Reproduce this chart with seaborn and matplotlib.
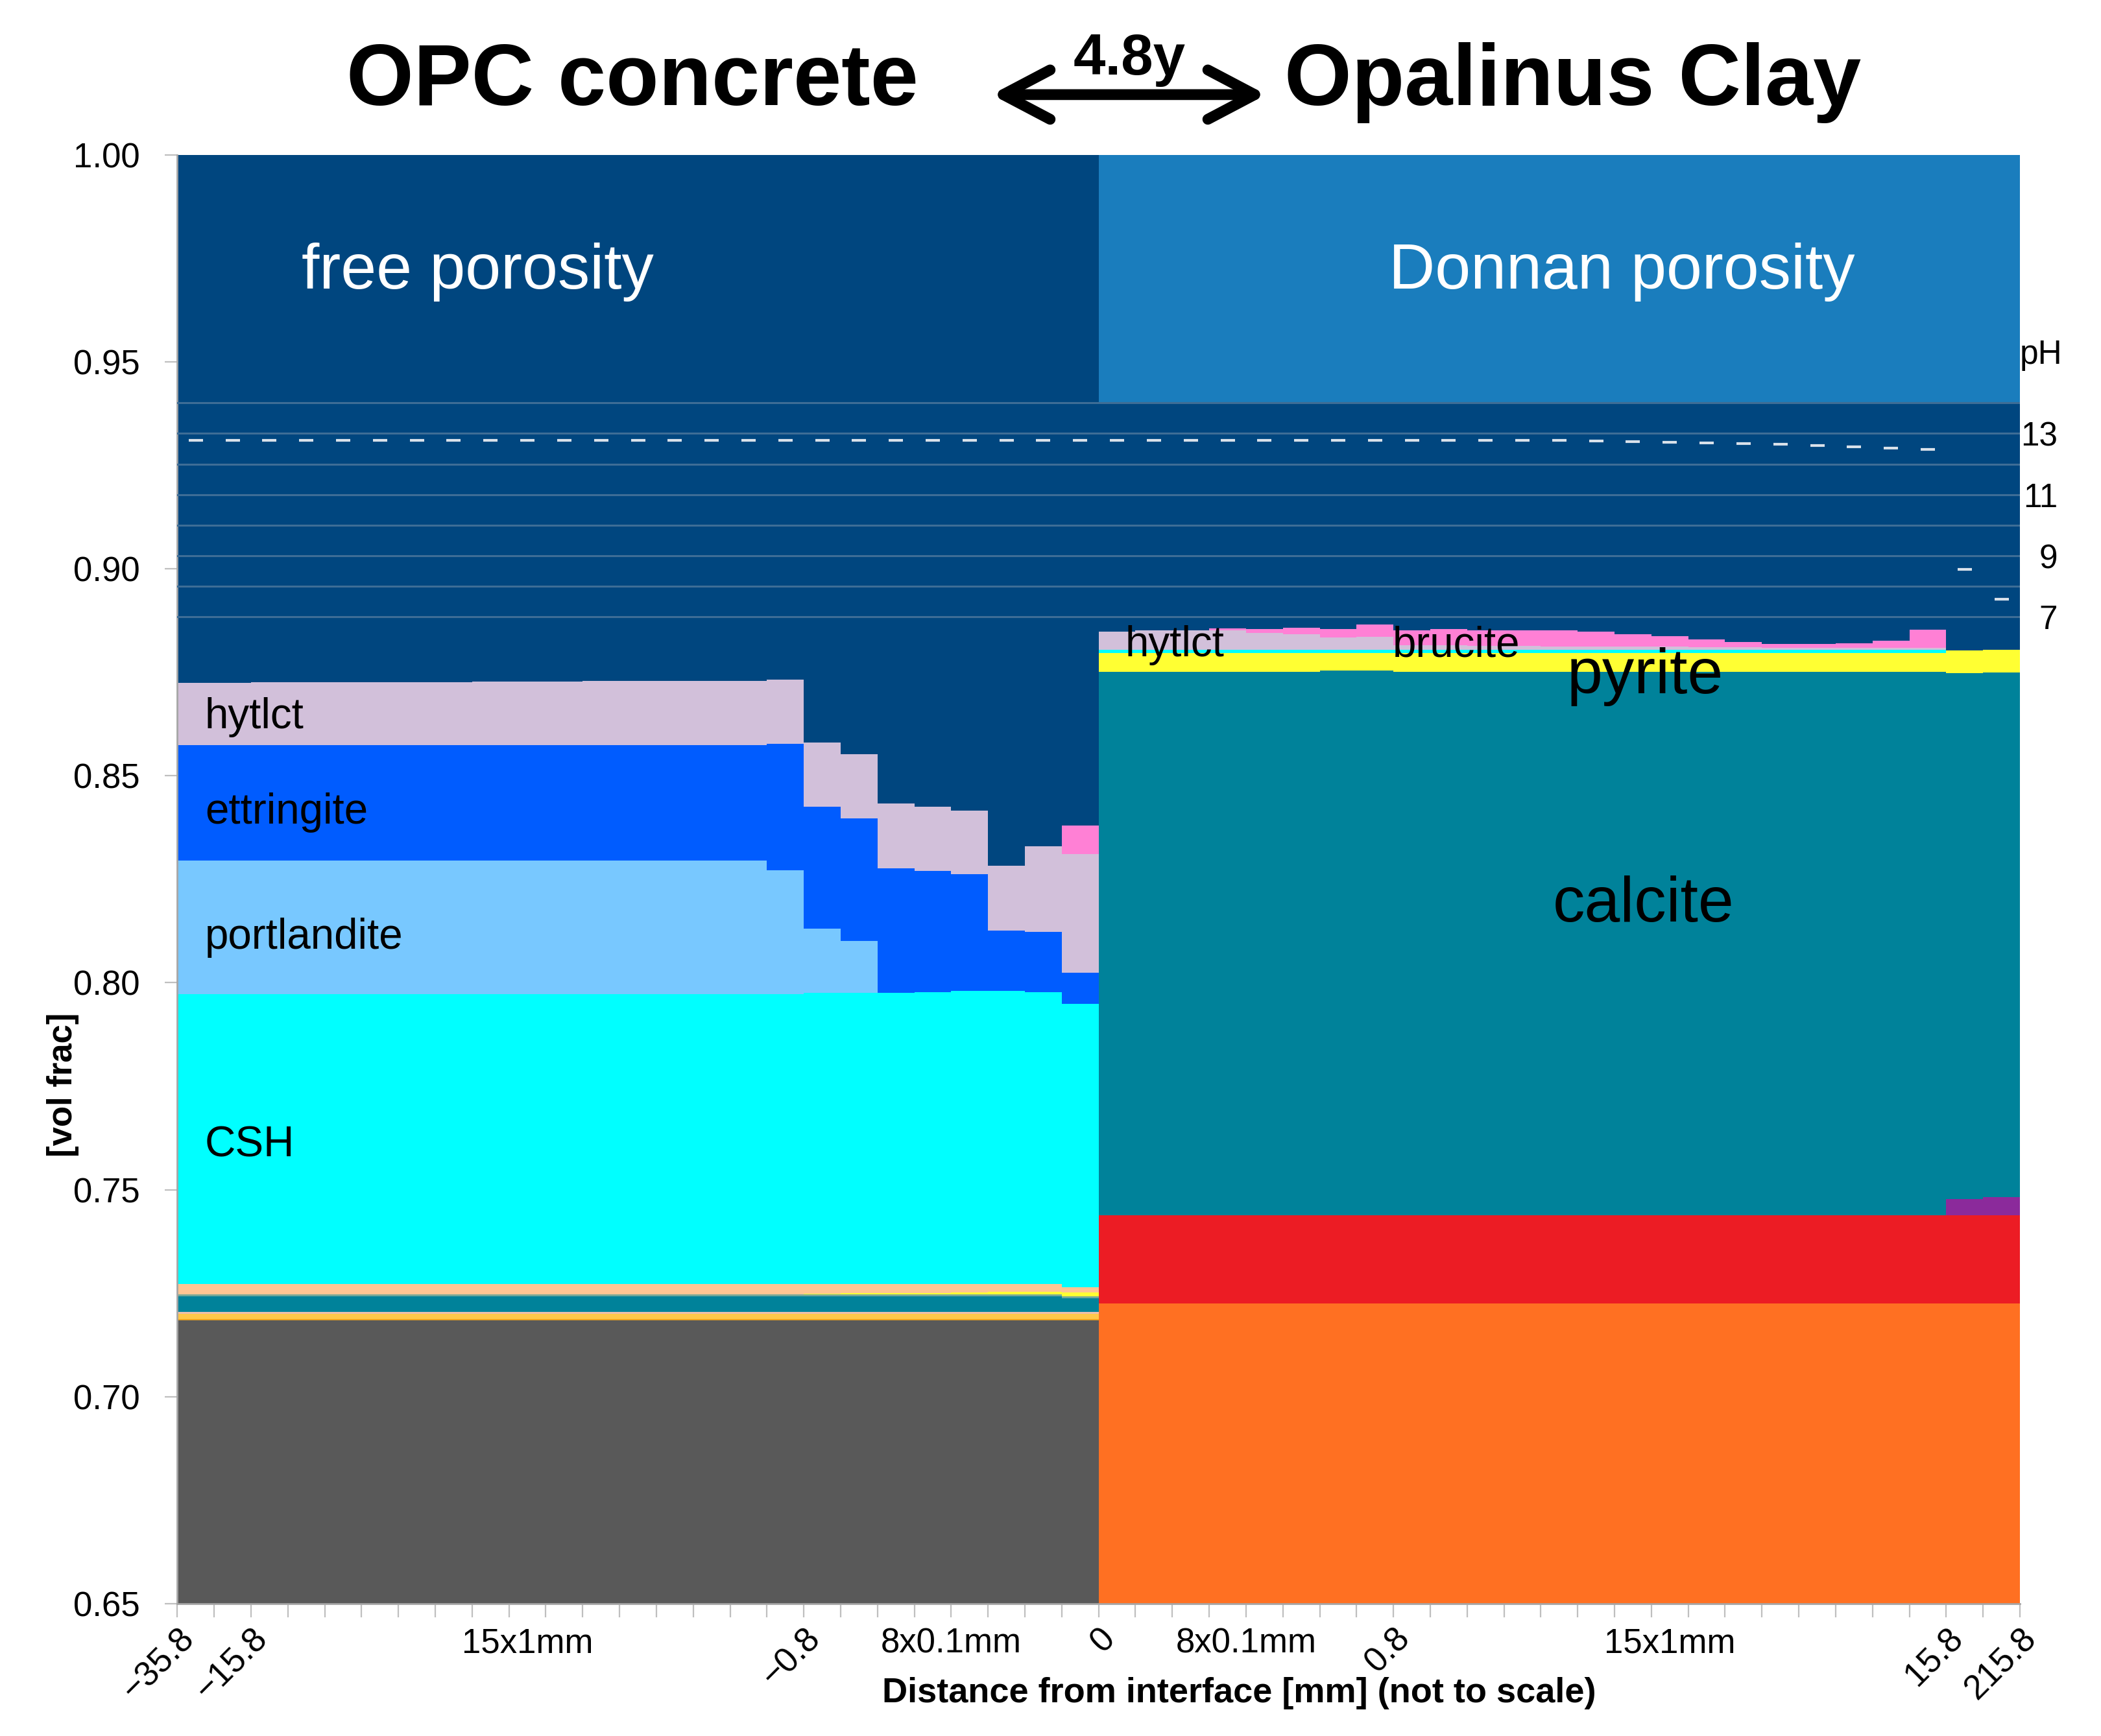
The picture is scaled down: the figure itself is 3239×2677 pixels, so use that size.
import numpy as np
import matplotlib
matplotlib.use('Agg')
import matplotlib.pyplot as plt
import matplotlib.transforms as mtransforms
from matplotlib.patches import FancyArrowPatch
import seaborn as sns

sns.set_theme(style='white')
plt.rcParams['font.family'] = ['Liberation Sans', 'DejaVu Sans']
plt.rcParams['text.color'] = 'black'
plt.rcParams['axes.labelcolor'] = 'black'
plt.rcParams['xtick.color'] = 'black'
plt.rcParams['ytick.color'] = 'black'

# 50 cells along the profile, 25 in the concrete and 25 in the clay (not to scale)
# left: 20mm cell (2 slots), 15x1mm, 8x0.1mm | right: 8x0.1mm, 15x1mm, 2x100mm
tick_pos = [0, 2, 17, 25, 33, 48, 50]
tick_labels = ['\u221235.8', '\u221215.8', '\u22120.8', '0', '0.8', '15.8', '215.8']
segment_pos = [9.5, 21, 29, 40.5]
segment_labels = ['15x1mm', '8x0.1mm', '8x0.1mm', '15x1mm']

# volume fractions per cell, bottom to top
aggregate = [0.7184] * 25 + [0.0] * 25
cem_orange = [0.00036] * 25 + [0.0] * 25
cem_gold = [0.0012] * 25 + [0.0] * 25
cem_pink = [0.0005] * 25 + [0.0] * 25
clay = [0.0] * 25 + [0.7225] * 25
red_min = [0.0] * 25 + [0.0213] * 25
purple_min = [0.0] * 48 + [0.0040, 0.0044]
calcite = [0.0038] * 24 + [0.0033] + [0.1314] * 6 + [0.1317] * 2 + [0.1314] * 15 + [0.1270, 0.1267]
green_min = [0.0004] * 25 + [0.0] * 25
pyrite = ([0.0] * 17 + [0.0002, 0.0003, 0.0003, 0.0004, 0.0005, 0.0006, 0.0006, 0.0010]
          + [0.0045] * 6 + [0.0042] * 2 + [0.0045] * 15 + [0.0055] * 2)
peach_min = [0.0026] * 17 + [0.0024, 0.0023, 0.0023, 0.0022, 0.0021, 0.0020, 0.0020, 0.0012] + [0.0] * 25
csh = [0.0700] * 17 + [0.0703, 0.0703, 0.0703, 0.0705, 0.0708, 0.0708, 0.0704, 0.0686] + [0.0008] * 23 + [0.0, 0.0]
portlandite = [0.0322] * 16 + [0.0299, 0.0155, 0.0126] + [0.0] * 6 + [0.0] * 25
ettringite = [0.0280] * 16 + [0.0306, 0.0295, 0.0295, 0.0301, 0.0293, 0.0281, 0.0145, 0.0147, 0.0074] + [0.0] * 25
hytlct = ([0.0150, 0.0150, 0.0151, 0.0151, 0.0151, 0.0152, 0.0152, 0.0152, 0.0153, 0.0153, 0.0153,
           0.0154, 0.0154, 0.0154, 0.0155, 0.0155, 0.0155, 0.0155, 0.0156, 0.0156, 0.0154, 0.0154,
           0.0157, 0.0206, 0.0287]
          + [0.0044, 0.0046, 0.0047, 0.0046, 0.0041, 0.0037, 0.0029, 0.0031,
             0.0010, 0.0010, 0.0009, 0.0009, 0.0008, 0.0008, 0.0007, 0.0007, 0.0006, 0.0006,
             0.0005, 0.0005, 0.0005, 0.0005, 0.0005, 0.0, 0.0])
brucite = ([0.0] * 24 + [0.0070]
           + [0.0, 0.0, 0.0, 0.0005, 0.0008, 0.0016, 0.0021, 0.0030,
              0.0036, 0.0039, 0.0037, 0.0037, 0.0038, 0.0035, 0.0030, 0.0025, 0.0019, 0.0013,
              0.0009, 0.0008, 0.0010, 0.0017, 0.0043, 0.0, 0.0])
donnan = [0.0] * 25 + [0.0597] * 25

ph = [12.78] * 37 + [12.77, 12.76, 12.74, 12.72, 12.70, 12.67, 12.64, 12.61, 12.57, 12.53, 12.48, 8.56, 7.58]

layers = [
    (aggregate, '#595959'), (cem_orange, '#F0A41E'), (cem_gold, '#FFC84A'), (cem_pink, '#EDBFAA'),
    (clay, '#FF7022'), (red_min, '#EC1C24'), (purple_min, '#8B2A9B'), (calcite, '#00829A'),
    (green_min, '#74A898'), (pyrite, '#FFFF33'), (peach_min, '#FFC593'), (csh, '#00FFFF'),
    (portlandite, '#78C8FF'), (ettringite, '#005CFF'), (hytlct, '#D2C0DA'), (brucite, '#FF80D5'),
]

fig = plt.figure(figsize=(16.195, 13.385), dpi=200)
ax = fig.add_axes([0.0844, 0.0763, 0.8770, 0.8344])

edges = np.arange(51)
bottom = np.zeros(50)
for vals, col in layers:
    top = bottom + np.asarray(vals)
    ax.fill_between(edges, np.append(bottom, bottom[-1]), np.append(top, top[-1]),
                    step='post', color=col, linewidth=0)
    bottom = top
# free porosity fills up to the Donnan porosity, which fills up to 1
don = np.asarray(donnan)
free_top = 1.0 - don
ax.fill_between(edges, np.append(bottom, bottom[-1]), np.append(free_top, free_top[-1]),
                step='post', color='#00467F', linewidth=0)
ax.fill_between(edges, np.append(free_top, free_top[-1]), np.ones(51),
                step='post', color='#1A7DBD', linewidth=0)

ax.set_xlim(0, 50)
ax.set_ylim(0.65, 1.0)
ax.set_yticks(np.arange(0.65, 1.001, 0.05))
ax.set_yticklabels([f'{v:.2f}' for v in np.arange(0.65, 1.001, 0.05)])
ax.set_xticks(tick_pos)
ax.set_xticks(np.arange(51), minor=True)
ax.set_xticklabels(tick_labels)
plt.setp(ax.get_xticklabels(), rotation=45, ha='right', va='top', rotation_mode='anchor')
ax.tick_params(axis='both', which='both', direction='out', color='#BFBFBF', width=0.8,
               left=True, bottom=True, labelsize=19, labelcolor='black')
ax.tick_params(axis='y', length=6.8, pad=14)
ax.tick_params(axis='x', which='both', length=7.4, pad=3)
for s in ['top', 'right']:
    ax.spines[s].set_visible(False)
for s in ['left', 'bottom']:
    ax.spines[s].set_color('#A6A6A6')
    ax.spines[s].set_linewidth(1.0)

trans = mtransforms.blended_transform_factory(ax.transData, ax.transAxes)
for xp, lab in zip(segment_pos, segment_labels):
    ax.text(xp, -0.0275, lab, transform=trans, ha='center', va='center', fontsize=19, color='black')

# phase labels
big = 35.5
small = 23.6
ax.text(3.37, 0.9717, 'free porosity', color='white', fontsize=big, va='center')
ax.text(32.87, 0.9717, 'Donnan porosity', color='white', fontsize=big, va='center')
ax.text(0.75, 0.8641, 'hytlct', fontsize=small, va='center', color='black')
ax.text(0.75, 0.8412, 'ettringite', fontsize=small, va='center', color='black')
ax.text(0.75, 0.8109, 'portlandite', fontsize=small, va='center', color='black')
ax.text(0.75, 0.7606, 'CSH', fontsize=small, va='center', color='black')
ax.text(25.71, 0.8816, 'hytlct', fontsize=small, va='center', color='black')
ax.text(32.98, 0.8815, 'brucite', fontsize=small, va='center', color='black')
ax.text(37.7, 0.8740, 'pyrite', fontsize=big, va='center', color='black')
ax.text(37.33, 0.8188, 'calcite', fontsize=big, va='center', color='black')

# pH on a secondary scale: pH 7 at 0.8884, 0.007386 vol frac per pH unit
ax2 = ax.twinx()
ph_lo = 7 + (0.65 - 0.8884) / 0.007386
ph_hi = 7 + (1.0 - 0.8884) / 0.007386
ax2.set_ylim(ph_lo, ph_hi)
sns.lineplot(x=np.arange(50) + 0.5, y=ph, ax=ax2, marker='_', linestyle='',
             markersize=7.8, markeredgewidth=1.5, color='#D9E1EA', markeredgecolor='#D9E1EA')
ax2.set_ylim(ph_lo, ph_hi)
ax2.set_xlim(0, 50)
ax2.set_yticks([7, 9, 11, 13])
ax2.set_yticks([8, 10, 12, 14], minor=True)
ax2.grid(True, axis='y', which='both', color='#3E6D96', linewidth=1.1)
ax2.grid(False, axis='x')
ax2.set_axisbelow(True)
ax2.tick_params(axis='y', which='both', length=0, pad=21, labelsize=18.5, right=True,
                labelcolor='black')
for lab in ax2.get_yticklabels():
    lab.set_ha('right')
for s in ax2.spines.values():
    s.set_visible(False)
ax2.set_ylabel('')
ax2.set_xlabel('')
ax2.text(1.0, 15.56, 'pH', transform=mtransforms.blended_transform_factory(ax2.transAxes, ax2.transData),
         ha='left', va='center', fontsize=18.5, color='black')

# titles and axis labels
fig.text(0.3011, 0.9396, 'OPC concrete', fontsize=48, fontweight='bold', ha='center', va='baseline', color='black')
fig.text(0.7487, 0.9396, 'Opalinus Clay', fontsize=48, fontweight='bold', ha='center', va='baseline', color='black')
fig.text(0.5375, 0.957, '4.8y', fontsize=32, fontweight='bold', ha='center', va='baseline', color='black')
arr = FancyArrowPatch((0.472, 0.9455), (0.6027, 0.9455), transform=fig.transFigure,
                      arrowstyle='<->,head_length=2.6,head_width=1.37', mutation_scale=10,
                      lw=6.0, color='black', shrinkA=0, shrinkB=0)
fig.add_artist(arr)
fig.text(0.5897, 0.0245, 'Distance from interface [mm] (not to scale)', fontsize=19.5,
         fontweight='bold', ha='center', va='center', color='black')
fig.text(0.030, 0.375, '[vol frac]', fontsize=19, fontweight='bold', rotation=90,
         ha='center', va='center', color='black')

fig.savefig('out.png', dpi=200)
